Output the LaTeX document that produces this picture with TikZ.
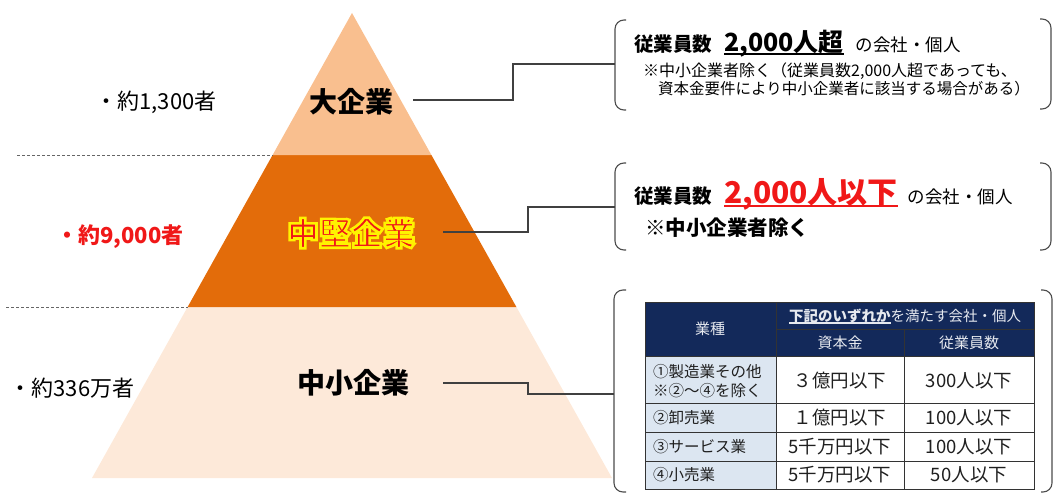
\documentclass[tikz,border=0pt]{standalone}
\usepackage{fontspec}
\setmainfont{Noto Sans CJK JP}
\usetikzlibrary{calc}
\definecolor{toporange}{HTML}{F9BF8F}
\definecolor{midorange}{HTML}{E36C0A}
\definecolor{lowpeach}{HTML}{FDE9D9}
\definecolor{navyhead}{HTML}{13295A}
\definecolor{paleblue}{HTML}{DCE6F1}
\definecolor{headtext}{HTML}{E6E9EF}
\definecolor{alertred}{HTML}{F01818}
\newcommand\myfs[1]{\fontsize{#1}{#1}\selectfont}
\newcommand\myul[3]{\setbox0\hbox{#3}\rlap{\color{#1}\rule[-#2]{\wd0}{1.6pt}}\box0}
\newcommand\outlined[1]{\special{pdf:literal direct 1 0.95 0 RG 2 Tr 2.6 w}#1\special{pdf:literal direct 0 Tr}}
\begin{document}
\begin{tikzpicture}[x=1pt,y=-1pt,
  conn/.style={draw=black!75, line width=1.1pt},
  brk/.style={draw=black!70, line width=1.1pt, rounded corners=9pt},
  dashline/.style={draw=black!60, line width=0.9pt, dash pattern=on 3pt off 2pt},
  lbl/.style={inner sep=0pt},
  cell/.style={draw=black!80, line width=0.8pt},
  ttxt/.style={inner sep=0pt, text=black!88},
  htxt/.style={inner sep=0pt, text=headtext},
]
\useasboundingbox (0,0) rectangle (1055,495);

% pyramid
\fill[lowpeach] (187.6,307) -- (516.4,307) -- (612,478) -- (92,478) -- cycle;
\fill[midorange] (272.6,155) -- (431.4,155) -- (516.4,307) -- (187.6,307) -- cycle;
\fill[toporange] (352,13) -- (431.4,155) -- (272.6,155) -- cycle;

% dashed separators
\draw[dashline] (17,155) -- (272.6,155);
\draw[dashline] (6,307) -- (187.6,307);

% pyramid labels
\node[lbl] (big) at (351,102) {\myfs{28}\bfseries 大企業};
\node[lbl,text=alertred] (mid) at (351,233) {\myfs{32}\bfseries\outlined{中堅企業}};
\node[lbl] (sme) at (353,383) {\myfs{28}\bfseries 中小企業};

% counts
\node[lbl] (n1) at (156,102) {\myfs{22}・約1,300者};
\node[lbl,text=alertred] (n2) at (120,237) {\myfs{22}\bfseries ・約9,000者};
\node[lbl] (n3) at (72,388) {\myfs{22}・約336万者};

% brackets
\draw[brk] (626,20) -- (615,20) -- (615,110) -- (626,110);
\draw[brk] (1040,19) -- (1051,19) -- (1051,109) -- (1040,109);
\draw[brk] (626,163) -- (615,163) -- (615,250) -- (626,250);
\draw[brk] (1040,163) -- (1051,163) -- (1051,250) -- (1040,250);
\draw[brk] (626,290) -- (614,290) -- (614,492) -- (626,492);
\draw[brk] (1041,290) -- (1052,290) -- (1052,492) -- (1041,492);

% connectors
\coordinate (c1s) at (413,100);
\coordinate (b1) at (615,64);
\coordinate (c2s) at (443,232);
\coordinate (b2) at (615,207);
\coordinate (c3s) at (443,383);
\coordinate (b3) at (614,394);
\draw[conn] (c1s) -| ([xshift=-102pt]b1) -- (b1);
\draw[conn] (c2s) -| ([xshift=-87pt]b2) -- (b2);
\draw[conn] (c3s) -| ([xshift=-86pt]b3) -- (b3);

% box 1
\node[lbl,anchor=base west] (t1a) at (634,52) {\myfs{19.5}\bfseries 従業員数\hspace{12pt}\myfs{25}\myul{black}{3pt}{2,000人超}\hspace{12pt}\mdseries\myfs{17.5}の会社・個人};
\node[lbl,anchor=west] (t1b) at (643,71) {\myfs{16}※中小企業者除く（従業員数2,000人超であっても、};
\node[lbl,anchor=west] (t1c) at (658,89) {\myfs{15.5}資本金要件により中小企業者に該当する場合がある）};

% box 2
\node[lbl,anchor=base west] (t2a) at (634,203) {\myfs{19.5}\bfseries 従業員数\hspace{12pt}\color{alertred}\myfs{30}\myul{alertred}{3.5pt}{2,000人以下}\hspace{10pt}\color{black}\mdseries\myfs{17.5}の会社・個人};
\node[lbl,anchor=west] (t2b) at (645,228) {\myfs{20.5}\bfseries ※中小企業者除く};

% table
\fill[navyhead] (645,302) rectangle (1034,356);
\fill[paleblue] (645,356) rectangle (776,489);
\fill[white] (776,356) rectangle (1034,489);
\draw[cell] (645,302) rectangle (1034,489);
\draw[cell] (776,302) -- (776,489);
\draw[cell] (904,329) -- (904,489);
\draw[cell] (776,329) -- (1034,329);
\draw[cell] (645,356) -- (1034,356);
\draw[cell] (645,403) -- (1034,403);
\draw[cell] (645,432) -- (1034,432);
\draw[cell] (645,461) -- (1034,461);

\node[htxt] (h1) at (710,329) {\myfs{15}業種};
\node[htxt] (h2) at (905,316) {\myfs{14.5}\myul{headtext}{2.5pt}{\bfseries 下記のいずれか}を満たす会社・個人};
\node[htxt] (h3) at (840,343) {\myfs{15}資本金};
\node[htxt] (h4) at (969,343) {\myfs{15}従業員数};

\node[ttxt,anchor=west,align=left] (r1a) at (653,381) {\myfs{15.5}①製造業その他\\[3pt]\myfs{15.5}※②～④を除く};
\node[ttxt] (r1b) at (840,381) {\myfs{18.5}３億円以下};
\node[ttxt] (r1c) at (969,381) {\myfs{18.5}300人以下};
\node[ttxt,anchor=west] (r2a) at (653,418) {\myfs{15.5}②卸売業};
\node[ttxt] (r2b) at (840,418) {\myfs{18.5}１億円以下};
\node[ttxt] (r2c) at (969,418) {\myfs{18.5}100人以下};
\node[ttxt,anchor=west] (r3a) at (653,447) {\myfs{15.5}③サービス業};
\node[ttxt] (r3b) at (840,447) {\myfs{18.5}5千万円以下};
\node[ttxt] (r3c) at (969,447) {\myfs{18.5}100人以下};
\node[ttxt,anchor=west] (r4a) at (653,475) {\myfs{15.5}④小売業};
\node[ttxt] (r4b) at (840,475) {\myfs{18.5}5千万円以下};
\node[ttxt] (r4c) at (969,475) {\myfs{18.5}50人以下};
\end{tikzpicture}
\end{document}
